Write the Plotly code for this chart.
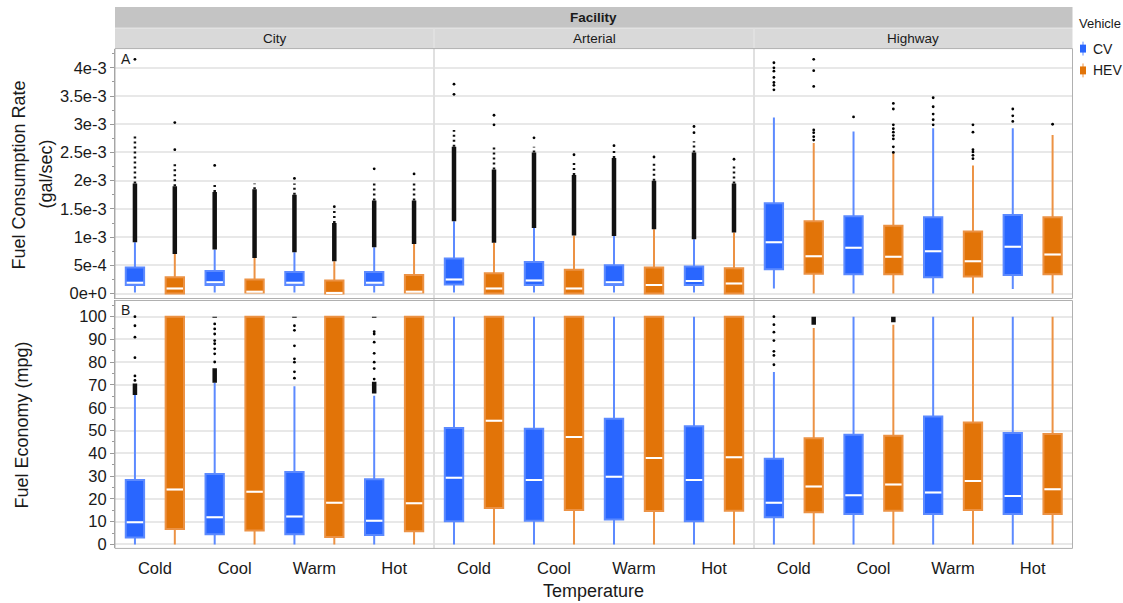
import plotly.graph_objects as go

W, H = 1123, 603

FACILITIES = ["City", "Arterial", "Highway"]
TEMPS = ["Cold", "Cool", "Warm", "Hot"]
VEHICLES = ["CV", "HEV"]

# ---------------- Fuel consumption rate, in units of 1e-3 gal/sec ----------------
FCR_SCALE = 1e-3
FCR_LOW = {
    "City":     {"CV": [0.02, 0.02, 0.02, 0.02], "HEV": [0.00, 0.02, 0.00, 0.02]},
    "Arterial": {"CV": [0.02, 0.02, 0.02, 0.02], "HEV": [0.00, 0.00, 0.00, 0.00]},
    "Highway":  {"CV": [0.09, 0.00, 0.00, 0.08], "HEV": [0.00, 0.00, 0.00, 0.00]},
}
FCR_Q1 = {
    "City":     {"CV": [0.15, 0.15, 0.15, 0.15], "HEV": [0.00, 0.02, 0.00, 0.02]},
    "Arterial": {"CV": [0.16, 0.15, 0.15, 0.15], "HEV": [0.00, 0.00, 0.00, 0.00]},
    "Highway":  {"CV": [0.43, 0.34, 0.29, 0.33], "HEV": [0.35, 0.34, 0.30, 0.34]},
}
FCR_MED = {
    "City":     {"CV": [0.19, 0.20, 0.19, 0.19], "HEV": [0.09, 0.03, 0.01, 0.03]},
    "Arterial": {"CV": [0.25, 0.23, 0.20, 0.22], "HEV": [0.09, 0.09, 0.15, 0.18]},
    "Highway":  {"CV": [0.91, 0.81, 0.75, 0.83], "HEV": [0.66, 0.65, 0.57, 0.69]},
}
FCR_Q3 = {
    "City":     {"CV": [0.46, 0.40, 0.38, 0.38], "HEV": [0.29, 0.25, 0.23, 0.33]},
    "Arterial": {"CV": [0.62, 0.56, 0.50, 0.48], "HEV": [0.36, 0.42, 0.46, 0.45]},
    "Highway":  {"CV": [1.60, 1.37, 1.35, 1.39], "HEV": [1.28, 1.20, 1.10, 1.35]},
}
FCR_HIGH = {
    "City":     {"CV": [0.91, 0.78, 0.73, 0.82], "HEV": [0.70, 0.63, 0.57, 0.88]},
    "Arterial": {"CV": [1.28, 1.16, 1.02, 0.96], "HEV": [0.90, 1.03, 1.14, 1.08]},
    "Highway":  {"CV": [3.12, 2.87, 2.93, 2.93], "HEV": [2.67, 2.50, 2.27, 2.81]},
}
# dense outlier runs (lo, hi) drawn as solid columns
FCR_CLOUDS = {
    "City": {
        "CV":  [[(0.91, 1.95)], [(0.78, 1.80)], [(0.73, 1.75)], [(0.82, 1.65)]],
        "HEV": [[(0.70, 1.90)], [(0.63, 1.85)], [(0.57, 1.25)], [(0.88, 1.65)]],
    },
    "Arterial": {
        "CV":  [[(1.28, 2.60)], [(1.16, 2.50)], [(1.02, 2.40)], [(0.96, 2.50)]],
        "HEV": [[(0.90, 2.20)], [(1.03, 2.10)], [(1.14, 2.00)], [(1.08, 1.95)]],
    },
    "Highway": {"CV": [[], [], [], []], "HEV": [[], [], [], []]},
}
# thinning outlier runs above the dense part
FCR_TRAILS = {
    "City": {
        "CV":  [[(1.95, 2.80)], [(1.80, 1.95)], [(1.75, 1.95)], [(1.65, 2.00)]],
        "HEV": [[(1.90, 2.30)], [(1.85, 1.95)], [(1.25, 1.50)], [(1.65, 1.95)]],
    },
    "Arterial": {
        "CV":  [[(2.60, 2.90)], [(2.50, 2.60)], [(2.40, 2.55)], [(2.50, 2.70)]],
        "HEV": [[(2.20, 2.62)], [(2.10, 2.35)], [(2.00, 2.30)], [(1.95, 2.25)]],
    },
    "Highway": {"CV": [[], [], [], []], "HEV": [[], [], [], []]},
}
FCR_POINTS = {
    "City": {
        "CV":  [[4.15], [2.27], [2.04], [2.21]],
        "HEV": [[2.55, 3.03], [], [1.54], [2.12]],
    },
    "Arterial": {
        "CV":  [[3.53, 3.71], [2.76], [2.62], [2.85, 2.96]],
        "HEV": [[2.99, 3.16], [2.46], [2.42], [2.38]],
    },
    "Highway": {
        "CV":  [[3.61, 3.69, 3.74, 3.83, 3.94, 4.00, 4.09], [3.13],
                [2.99, 3.08, 3.18, 3.31, 3.47], [3.05, 3.15, 3.27]],
        "HEV": [[2.72, 2.78, 2.85, 2.90, 3.67, 3.95, 4.15],
                [2.50, 2.60, 2.74, 2.80, 2.86, 2.92, 2.99, 3.27, 3.37],
                [2.39, 2.45, 2.51, 2.55, 2.86, 2.99], [3.00]],
    },
}

# ---------------- Fuel economy, mpg ----------------
MPG_LOW = {
    "City":     {"CV": [0, 0, 0, 0], "HEV": [0, 0, 0, 0]},
    "Arterial": {"CV": [0, 0, 0, 0], "HEV": [0, 0, 0, 0]},
    "Highway":  {"CV": [0, 0, 0, 0], "HEV": [0, 0, 0, 0]},
}
MPG_Q1 = {
    "City":     {"CV": [3.1, 4.5, 4.5, 4.2],     "HEV": [6.8, 6.1, 3.3, 5.8]},
    "Arterial": {"CV": [10.2, 10.4, 11.0, 10.2], "HEV": [16.0, 15.1, 14.7, 14.8]},
    "Highway":  {"CV": [11.9, 13.4, 13.4, 13.4], "HEV": [14.1, 14.8, 15.1, 13.4]},
}
MPG_MED = {
    "City":     {"CV": [9.7, 11.9, 12.3, 10.4],  "HEV": [24.1, 23.1, 18.3, 18.1]},
    "Arterial": {"CV": [29.3, 28.3, 29.7, 28.3], "HEV": [54.3, 47.2, 38.0, 38.3]},
    "Highway":  {"CV": [18.3, 21.6, 22.8, 21.3], "HEV": [25.4, 26.3, 27.9, 24.2]},
}
MPG_Q3 = {
    "City":     {"CV": [28.3, 30.9, 31.8, 28.6], "HEV": [100, 100, 100, 100]},
    "Arterial": {"CV": [51.1, 50.8, 55.2, 51.9], "HEV": [100, 100, 100, 100]},
    "Highway":  {"CV": [37.6, 48.2, 56.2, 48.9], "HEV": [46.6, 47.7, 53.5, 48.5]},
}
MPG_HIGH = {
    "City":     {"CV": [66.0, 71.0, 69.4, 65.3], "HEV": [100, 100, 100, 100]},
    "Arterial": {"CV": [100, 100, 100, 100],     "HEV": [100, 100, 100, 100]},
    "Highway":  {"CV": [75.7, 100, 100, 100],    "HEV": [95.0, 96.5, 100, 100]},
}
MPG_CLOUDS = {
    "City": {
        "CV":  [[(65.6, 70.7)], [(71.0, 77.4), (99.5, 100.0)],
                [(99.5, 100.0)], [(66.3, 71.4), (99.5, 100.0)]],
        "HEV": [[], [], [], []],
    },
    "Arterial": {"CV": [[], [], [], []], "HEV": [[], [], [], []]},
    "Highway": {
        "CV":  [[], [], [], []],
        "HEV": [[(96.5, 100.0)], [(97.5, 100.0)], [], []],
    },
}
MPG_TRAILS = {
    "City":     {"CV": [[], [], [], []], "HEV": [[], [], [], []]},
    "Arterial": {"CV": [[], [], [], []], "HEV": [[], [], [], []]},
    "Highway":  {"CV": [[], [], [], []], "HEV": [[], [], [], []]},
}
MPG_POINTS = {
    "City": {
        "CV":  [[72.0, 74.0, 82.0, 91.0, 96.0, 100.0],
                [80.1, 83.7, 85.9, 88.1, 89.5, 92.4, 94.6, 96.8],
                [73.0, 75.8, 80.0, 81.5, 87.2, 94.0, 96.0],
                [72.6, 77.2, 80.0, 83.9, 88.8, 92.4, 93.4]],
        "HEV": [[], [], [], []],
    },
    "Arterial": {"CV": [[], [], [], []], "HEV": [[], [], [], []]},
    "Highway": {
        "CV":  [[78.9, 83.0, 84.8, 89.5, 93.2, 96.5, 100.0], [], [], []],
        "HEV": [[], [], [], []],
    },
}

FCR_TICKS = [0, 0.5, 1.0, 1.5, 2.0, 2.5, 3.0, 3.5, 4.0]
FCR_TICKTEXT = ["0e+0", "5e-4", "1e-3", "1.5e-3", "2e-3", "2.5e-3", "3e-3", "3.5e-3", "4e-3"]
MPG_TICKS = [0, 10, 20, 30, 40, 50, 60, 70, 80, 90, 100]

FILL = {"CV": "#2966FF", "HEV": "#E27408"}
EDGE = {"CV": "#5C8AFF", "HEV": "#EC9244"}
DODGE = {"CV": -0.25, "HEV": 0.25}
BOX_W = 0.23

FONT = "Liberation Sans, Arial, Helvetica, sans-serif"
INK = "#1A1A1A"

# pixel layout of the facet grid
COL_EDGES = [115, 434, 754, 1072.5]
ROWS = {"fcr": (49, 301), "mpg": (303, 553)}


def px_x(v):
    return v / W


def px_y(v):
    return 1 - v / H


fig = go.Figure()

metrics = [
    ("fcr", FCR_SCALE, FCR_LOW, FCR_Q1, FCR_MED, FCR_Q3, FCR_HIGH, FCR_CLOUDS, FCR_TRAILS, FCR_POINTS),
    ("mpg", 1.0, MPG_LOW, MPG_Q1, MPG_MED, MPG_Q3, MPG_HIGH, MPG_CLOUDS, MPG_TRAILS, MPG_POINTS),
]

for r, (key, scale, low, q1, med, q3, high, clouds, trails, points) in enumerate(metrics):
    yname = "y" if r == 0 else "y2"
    for c, fac in enumerate(FACILITIES):
        n = r * 3 + c + 1
        xname = "x" if n == 1 else f"x{n}"
        for veh in VEHICLES:
            pos = [i + DODGE[veh] for i in range(len(TEMPS))]

            def sc(vals):
                return [v * scale for v in vals]

            fig.add_trace(go.Box(
                x=pos,
                lowerfence=sc(low[fac][veh]),
                q1=sc(q1[fac][veh]),
                median=sc(med[fac][veh]),
                q3=sc(q3[fac][veh]),
                upperfence=sc(high[fac][veh]),
                width=BOX_W,
                whiskerwidth=0,
                boxpoints=False,
                fillcolor=FILL[veh],
                line=dict(color=EDGE[veh], width=2),
                xaxis=xname, yaxis=yname,
                showlegend=False, hoverinfo="skip",
            ))
            # white median bars
            mx, my = [], []
            for p, m in zip(pos, med[fac][veh]):
                mx += [p - BOX_W / 2 + 0.012, p + BOX_W / 2 - 0.012, None]
                my += [m * scale, m * scale, None]
            fig.add_trace(go.Scatter(
                x=mx, y=my, mode="lines", line=dict(color="white", width=2),
                xaxis=xname, yaxis=yname, showlegend=False, hoverinfo="skip",
            ))
            # outliers: dense columns, thinning runs, single points
            cx, cy, tx, ty, ox, oy = [], [], [], [], [], []
            for i, p in enumerate(pos):
                for lo, hi in clouds[fac][veh][i]:
                    cx += [p, p, None]
                    cy += [lo * scale, hi * scale, None]
                for lo, hi in trails[fac][veh][i]:
                    tx += [p, p, None]
                    ty += [lo * scale, hi * scale, None]
                for v in points[fac][veh][i]:
                    ox.append(p)
                    oy.append(v * scale)
            if cx:
                fig.add_trace(go.Scatter(
                    x=cx, y=cy, mode="lines", line=dict(color="#111111", width=4.5),
                    xaxis=xname, yaxis=yname, showlegend=False, hoverinfo="skip",
                ))
            if tx:
                fig.add_trace(go.Scatter(
                    x=tx, y=ty, mode="lines",
                    line=dict(color="#111111", width=2.5, dash="2px,3px"),
                    xaxis=xname, yaxis=yname, showlegend=False, hoverinfo="skip",
                ))
            if ox:
                fig.add_trace(go.Scatter(
                    x=ox, y=oy, mode="markers",
                    marker=dict(color="black", size=2.8),
                    xaxis=xname, yaxis=yname, showlegend=False, hoverinfo="skip",
                ))

layout = dict(
    width=W, height=H,
    margin=dict(l=0, r=0, t=0, b=0),
    paper_bgcolor="white", plot_bgcolor="white",
    showlegend=False,
    font=dict(family=FONT, color=INK),
)

# x axes: one per facet
for r, key in enumerate(["fcr", "mpg"]):
    for c in range(3):
        n = r * 3 + c + 1
        name = "xaxis" if n == 1 else f"xaxis{n}"
        layout[name] = dict(
            domain=[px_x(COL_EDGES[c]), px_x(COL_EDGES[c + 1])],
            range=[-0.5, 3.5],
            anchor="y" if r == 0 else "y2",
            showgrid=False, zeroline=False, showline=False,
            tickmode="array", tickvals=list(range(len(TEMPS))), ticktext=TEMPS,
            showticklabels=(r == 1), ticks="", ticklabelstandoff=8,
            tickfont=dict(size=16.5, color=INK, family=FONT),
        )

common_y = dict(
    showgrid=True, gridcolor="#E8E8E8", gridwidth=1.5,
    zeroline=False, showline=True, linecolor="#9A9A9A", linewidth=1,
    ticks="outside", ticklen=4, tickcolor="#9A9A9A", tickwidth=1,
    tickfont=dict(size=16.5, color=INK, family=FONT),
    tickmode="array",
)
layout["yaxis"] = dict(
    common_y,
    domain=[px_y(ROWS["fcr"][1]), px_y(ROWS["fcr"][0])],
    anchor="x",
    range=[-0.088e-3, 4.341e-3],
    tickvals=[t * FCR_SCALE for t in FCR_TICKS], ticktext=FCR_TICKTEXT,
    minor=dict(ticks="outside", ticklen=2, tickcolor="#9A9A9A", dtick=0.25e-3,
               tick0=0, showgrid=False),
)
layout["yaxis2"] = dict(
    common_y,
    domain=[px_y(ROWS["mpg"][1]), px_y(ROWS["mpg"][0])],
    anchor="x4",
    range=[-1.74, 107.1],
    tickvals=MPG_TICKS, ticktext=[str(t) for t in MPG_TICKS],
    minor=dict(ticks="outside", ticklen=2, tickcolor="#9A9A9A", dtick=5,
               tick0=0, showgrid=False),
)

shapes = []
# facet strips
shapes.append(dict(type="rect", xref="paper", yref="paper", layer="below",
                   x0=px_x(115), x1=px_x(1072.5), y0=px_y(28), y1=px_y(7),
                   fillcolor="#C4C4C4", line=dict(width=0)))
for c in range(3):
    shapes.append(dict(type="rect", xref="paper", yref="paper", layer="below",
                       x0=px_x(COL_EDGES[c]), x1=px_x(COL_EDGES[c + 1]),
                       y0=px_y(49), y1=px_y(28.5),
                       fillcolor="#D9D9D9", line=dict(width=0)))
# separators between facility columns
for xv in COL_EDGES[1:3]:
    shapes.append(dict(type="line", xref="paper", yref="paper", layer="above",
                       x0=px_x(xv), x1=px_x(xv), y0=px_y(28.5), y1=px_y(553),
                       line=dict(color="#E0E0E0", width=2)))
# panel outlines
for top, bot in ROWS.values():
    shapes.append(dict(type="rect", xref="paper", yref="paper", layer="above",
                       x0=px_x(115), x1=px_x(1072.5), y0=px_y(bot), y1=px_y(top),
                       line=dict(color="#B0B0B0", width=1), fillcolor="rgba(0,0,0,0)"))
# legend keys
for veh, yc in (("CV", 49), ("HEV", 71)):
    shapes.append(dict(type="line", xref="paper", yref="paper",
                       x0=px_x(1083), x1=px_x(1083), y0=px_y(yc + 7), y1=px_y(yc - 7),
                       line=dict(color=EDGE[veh], width=1)))
    shapes.append(dict(type="rect", xref="paper", yref="paper",
                       x0=px_x(1080), x1=px_x(1086), y0=px_y(yc + 4), y1=px_y(yc - 4),
                       fillcolor=FILL[veh], line=dict(width=0)))
layout["shapes"] = shapes


def note(text, x, y, size, xanchor="center", yanchor="middle", angle=0, bold=False):
    return dict(text=f"<b>{text}</b>" if bold else text, xref="paper", yref="paper",
                x=px_x(x), y=px_y(y), xanchor=xanchor, yanchor=yanchor,
                showarrow=False, textangle=angle,
                font=dict(size=size, color=INK, family=FONT))


annotations = [
    note("Facility", 593.5, 17.5, 13.5, bold=True),
    note("A", 119, 59, 14, xanchor="left"),
    note("B", 119, 313, 14, xanchor="left"),
    note("Fuel Consumption Rate", 19, 177, 18, angle=-90),
    note("(gal/sec)", 46, 175, 18, angle=-90),
    note("Fuel Economy (mpg)", 22, 429, 18, angle=-90),
    note("Temperature", 593, 596, 18),
    note("Vehicle", 1077, 24, 13, xanchor="left"),
    note("CV", 1091, 49, 14, xanchor="left"),
    note("HEV", 1091, 71, 14, xanchor="left"),
]
for c, fac in enumerate(FACILITIES):
    annotations.append(note(fac, (COL_EDGES[c] + COL_EDGES[c + 1]) / 2, 39, 13.5))
layout["annotations"] = annotations

fig.update_layout(**layout)
fig.write_html("out.html")
